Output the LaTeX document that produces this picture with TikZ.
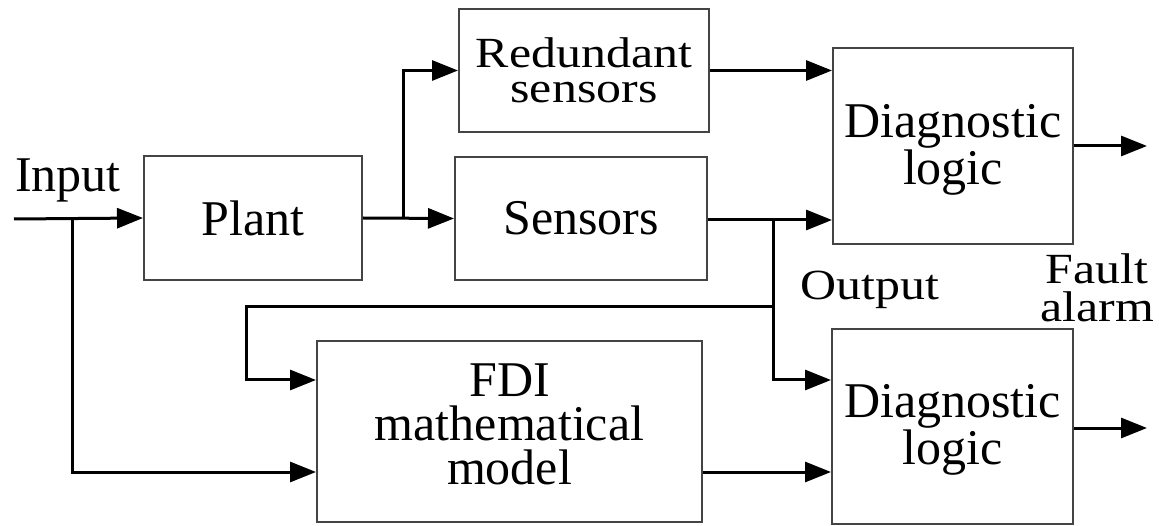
\documentclass[tikz,border=0pt]{standalone}
\usepackage{fontspec}
\setmainfont{Liberation Serif}
\newfontfamily\widefont{Liberation Serif}[FakeStretch=1.16]
\usetikzlibrary{arrows.meta}
\definecolor{boxgray}{HTML}{444444}
\begin{document}
\begin{tikzpicture}[x=1pt,y=-1pt,
  box/.style={draw=boxgray, line width=2pt, inner sep=0pt, align=center,
    font=\fontsize{50}{47}\selectfont},
  lbl/.style={inner sep=0pt, align=center, font=\fontsize{50}{47}\selectfont},
  wlbl/.style={inner sep=0pt, align=center, font=\widefont\fontsize{43}{38}\selectfont},
  ln/.style={line width=3pt, black},
  arr/.style={line width=3pt, black, -{Triangle[length=26pt,width=20pt]}}]
\useasboundingbox (0,0) rectangle (1159,526);

% blocks
\node[box, minimum width=218pt, minimum height=124pt] (plant) at (253,218) {Plant};
\node[box, minimum width=250pt, minimum height=123pt,
      font=\widefont\fontsize{43}{35}\selectfont] (redund) at (584,70.5) {Redundant\\sensors};
\node[box, minimum width=252pt, minimum height=123pt] (sensors) at (581,218.5) {Sensors};
\node[box, minimum width=240pt, minimum height=196pt] (diag1) at (953,146) {\rule{0pt}{40pt}Diagnostic\\logic};
\node[box, minimum width=385pt, minimum height=181pt,
      font=\fontsize{50}{44}\selectfont] (fdi) at (509.5,431.5) {FDI\\mathematical\\model\rule[-14pt]{0pt}{14pt}};
\node[box, minimum width=241pt, minimum height=195pt] (diag2) at (952.5,426.5) {\rule{0pt}{40pt}Diagnostic\\logic};

% labels
\node[lbl, anchor=base] (input) at (68,192) {Input};
\node[wlbl, anchor=base] (output) at (870,300) {Output};
\node[wlbl, anchor=north] (fault) at (1097,253) {Fault\\alarm};

% junctions and free ends
\coordinate (in0) at (14,219);
\coordinate (j1) at (72,219);
\coordinate (j2) at (403,219);
\coordinate (j3) at (773,220);
\coordinate (j4) at (773,307);
\coordinate (c1) at (246,307);
\coordinate (out1) at (1147,146);
\coordinate (out2) at (1147,428);

% connectors
\draw[arr] (in0) -- (plant.west);
\draw[arr] (j1) |- (fdi.west |- 0,472);
\draw[arr] (plant.east) -- (sensors.west);
\draw[arr] (j2) |- (redund.west);
\draw[arr] (redund.east) -- (redund.east -| diag1.west);
\draw[arr] (sensors.east |- j3) -- (j3 -| diag1.west);
\draw[arr] (j3) |- (diag2.west |- 0,380);
\draw[arr] (j4) -- (c1) |- (fdi.west |- 0,380);
\draw[arr] (fdi.east |- 0,472) -- (diag2.west |- 0,472);
\draw[arr] (diag1.east) -- (out1);
\draw[arr] (diag2.east |- out2) -- (out2);
\end{tikzpicture}
\end{document}
